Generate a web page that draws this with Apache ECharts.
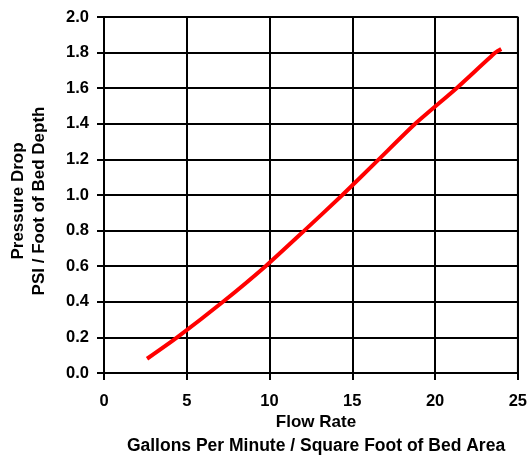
<!DOCTYPE html>
<html><head><meta charset="utf-8">
<script src="https://cdn.jsdelivr.net/npm/echarts@6/dist/echarts.min.js"></script>
<style>html,body{margin:0;padding:0;background:#fff}#c{width:530px;height:455px}</style>
</head><body><div id="c"></div>
<script>
const flowRate = [2.6, 4.42, 7.19, 9.76, 12.1, 14.4, 16.6, 18.8, 21.3, 23.65, 24.0];
const pressureDrop = [0.08, 0.2, 0.4, 0.6, 0.8, 1.0, 1.2, 1.4, 1.6, 1.8, 1.82];
const xTitle1 = 'Flow Rate';
const xTitle2 = 'Gallons Per Minute / Square Foot of Bed Area';
const yTitle1 = 'Pressure Drop';
const yTitle2 = 'PSI / Foot of Bed Depth';

const font = '"Liberation Sans", Arial, sans-serif';
const chart = echarts.init(document.getElementById('c'), null, {renderer: 'canvas'});
chart.setOption({
  animation: false,
  grid: {left: 104, right: 11, top: 17, bottom: 82, show: true, borderColor: '#999', borderWidth: 2},
  xAxis: {
    type: 'value', min: 0, max: 25, interval: 5,
    axisLine: {lineStyle: {color: '#000', width: 2}},
    axisTick: {show: true, length: 7, lineStyle: {color: '#000', width: 2}},
    splitLine: {show: true, lineStyle: {color: '#000', width: 2}},
    axisLabel: {color: '#000', fontFamily: font, fontWeight: 'bold', fontSize: 16.5, margin: 20}
  },
  yAxis: {
    type: 'value', min: 0, max: 2, interval: 0.2,
    axisLine: {lineStyle: {color: '#000', width: 2}},
    axisTick: {show: true, length: 7, lineStyle: {color: '#000', width: 2}},
    splitLine: {show: true, lineStyle: {color: '#000', width: 2}},
    axisLabel: {color: '#000', fontFamily: font, fontWeight: 'bold', fontSize: 16.5, margin: 15,
      formatter: v => v.toFixed(1)}
  },
  graphic: [
    {type: 'text', style: {text: xTitle1, x: 316, y: 422, align: 'center', verticalAlign: 'middle', font: 'bold 17px ' + font, fill: '#000'}},
    {type: 'text', style: {text: xTitle2, x: 316, y: 446, align: 'center', verticalAlign: 'middle', font: 'bold 17.5px ' + font, fill: '#000'}},
    {type: 'text', x: 18, y: 201, rotation: Math.PI / 2, style: {text: yTitle1, x: 0, y: 0, align: 'center', verticalAlign: 'middle', font: 'bold 17px ' + font, fill: '#000'}},
    {type: 'text', x: 39, y: 201, rotation: Math.PI / 2, style: {text: yTitle2, x: 0, y: 0, align: 'center', verticalAlign: 'middle', font: 'bold 17px ' + font, fill: '#000'}}
  ],
  series: [{
    type: 'line', smooth: 0.2, showSymbol: false,
    data: flowRate.map((x, i) => [x, pressureDrop[i]]),
    lineStyle: {color: '#ff0000', width: 4}
  }]
});
</script></body></html>
